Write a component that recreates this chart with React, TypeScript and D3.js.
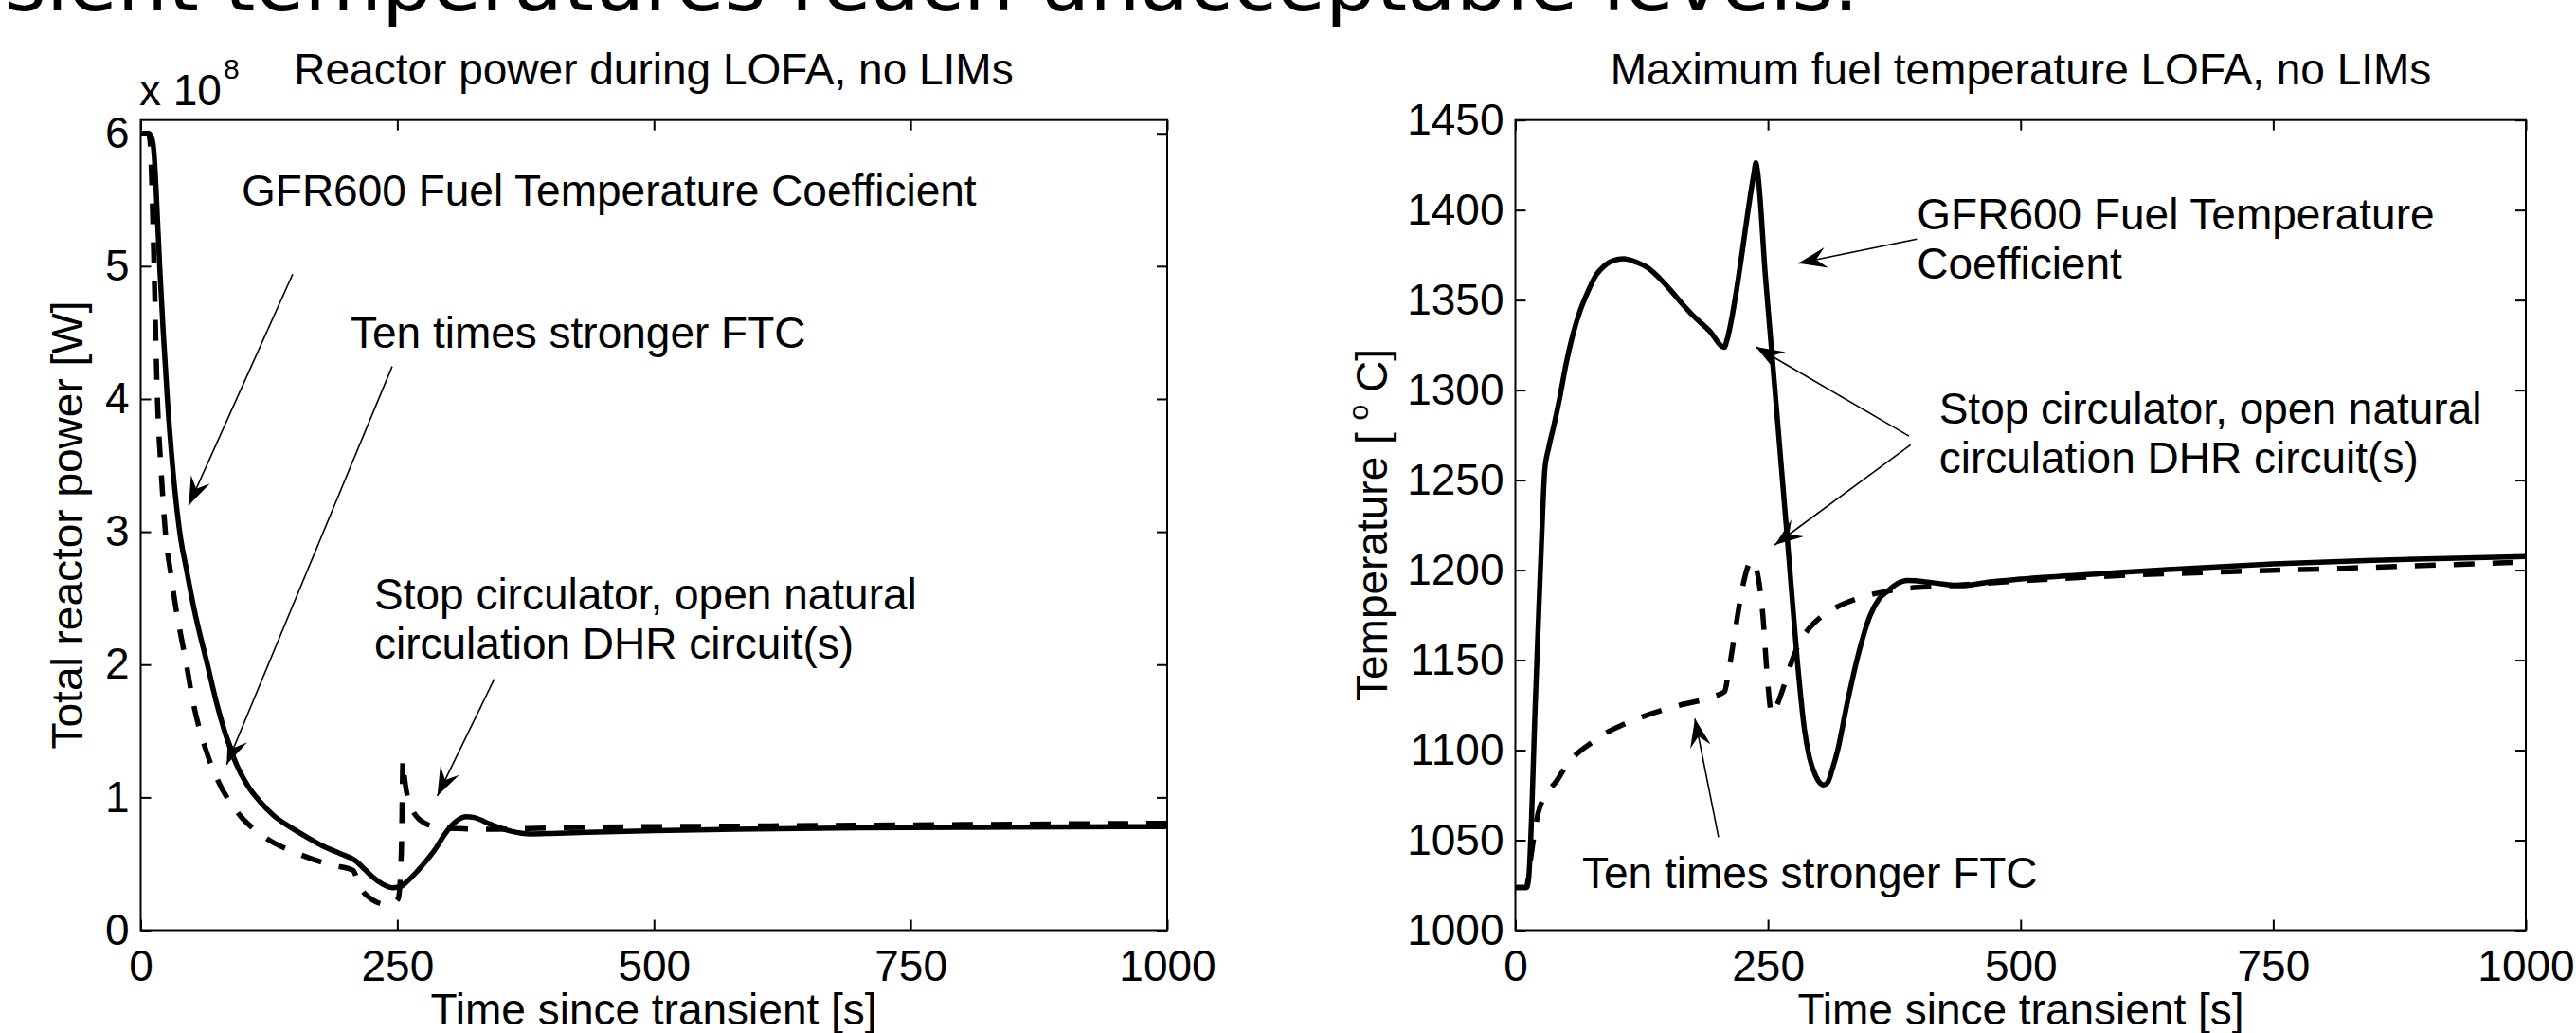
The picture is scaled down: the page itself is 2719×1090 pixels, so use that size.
import React, { useRef, useEffect } from "react";
import * as d3 from "d3";

// ---- data ----
// reactor power [x1e8 W] vs time [s]
const powerGfr: [number, number][] = [
  [0, 6.0], [8, 6.0], [11, 5.96], [13, 5.85], [15.5, 5.5], [18.5, 5.0], [22, 4.5], [26, 4.0],
  [31, 3.5], [38, 3.0], [45, 2.7], [52, 2.42], [65, 2.0], [75, 1.68], [85, 1.42], [95, 1.22],
  [105, 1.08], [115, 0.98], [130, 0.86], [146, 0.775], [162, 0.7], [177, 0.635], [195, 0.575],
  [209, 0.525], [218, 0.46], [226, 0.4], [236, 0.345], [245, 0.32], [252, 0.325], [260, 0.37],
  [269, 0.44], [278, 0.52], [287, 0.61], [296, 0.72], [303, 0.79], [310, 0.835], [317, 0.855],
  [325, 0.848], [340, 0.8], [361, 0.745], [380, 0.725], [400, 0.728], [435, 0.737], [500, 0.75],
  [600, 0.762], [700, 0.77], [850, 0.776], [1000, 0.78],
];
const powerStrong: [number, number][] = [
  [0, 6.0], [7, 6.0], [9, 5.95], [10.5, 5.7], [13, 5.0], [16.3, 4.0], [20, 3.45], [24, 3.0],
  [29, 2.7], [34, 2.44], [44.6, 2.0], [51, 1.72], [63, 1.37], [75, 1.13], [94, 0.89], [121, 0.7],
  [152, 0.58], [186, 0.49], [207, 0.45], [211, 0.38], [215, 0.31], [222, 0.25], [230, 0.21],
  [238, 0.195], [246, 0.205], [251, 0.24], [254, 0.6], [255.5, 1.28], [257, 1.15], [260, 1.0],
  [265, 0.9], [272, 0.83], [287, 0.78], [310, 0.765], [340, 0.76], [400, 0.77], [600, 0.785],
  [800, 0.795], [1000, 0.805],
];
// max fuel temperature [C] vs time [s]
const tempGfr: [number, number][] = [
  [0, 1023.7], [11, 1023.7], [13, 1028], [20, 1130], [27, 1232], [29, 1255], [33, 1268],
  [38, 1280], [44, 1296], [50, 1314], [57, 1331], [64, 1344], [72, 1355], [80, 1364], [88, 1369],
  [97, 1372], [107, 1373], [120, 1371], [132, 1367.6], [143, 1362], [154, 1355.3], [165, 1348],
  [176, 1341.3], [192, 1333], [207, 1323.7], [209, 1327], [236, 1420], [238, 1426.3], [240, 1420],
  [247.5, 1363], [255, 1313], [263, 1259], [271, 1205], [279, 1150], [286, 1112], [291, 1096],
  [297, 1086], [302, 1081.5], [305, 1080.7], [309, 1082], [314, 1090], [319, 1100], [328, 1125],
  [338, 1150], [351, 1174.6], [360, 1184], [369, 1188.6], [378, 1192.5], [388, 1194.2],
  [413, 1193], [441, 1191.3], [470, 1193.5], [500, 1195], [588, 1198.3], [650, 1200.5],
  [750, 1203.5], [850, 1205.5], [1000, 1207.6],
];
const tempStrong: [number, number][] = [
  [0, 1023.7], [11, 1023.7], [14, 1035], [17, 1047], [22.5, 1065], [30, 1075], [41, 1083],
  [50, 1091], [60, 1097.5], [75, 1104], [91, 1110], [108, 1114.5], [125, 1118.4], [160, 1124.6],
  [197, 1130], [207, 1132.5], [210, 1140], [213, 1150], [218, 1168], [222.5, 1183.4], [229, 1200],
  [233.5, 1205.3], [237, 1203], [240, 1197], [245, 1174.6], [249, 1143], [253.8, 1120.2],
  [258, 1124], [266, 1136], [274, 1150], [282, 1160.5], [292, 1168.5], [303.7, 1174.6],
  [320, 1180], [344, 1185.1], [382, 1189.5], [429, 1191.3], [500, 1194], [600, 1197],
  [700, 1199], [817, 1201], [1000, 1204.5],
];

const timeTicks = [0, 250, 500, 750, 1000];
const powerTicks = [0, 1, 2, 3, 4, 5, 6];
const tempTicks = [1000, 1050, 1100, 1150, 1200, 1250, 1300, 1350, 1400, 1450];

// annotations, in data units (t, value)
const powerNotes = [
  { lines: ["GFR600 Fuel Temperature Coefficient"], at: [98.3, 5.458] },
  { lines: ["Ten times stronger FTC"], at: [204.4, 4.387] },
  { lines: ["Stop circulator, open natural", "circulation DHR circuit(s)"], at: [227.5, 2.418] },
];
const powerArrows = [
  { from: [148.1, 4.94], to: [46.9, 3.2] },
  { from: [245, 4.245], to: [83.8, 1.247] },
  { from: [344.4, 1.89], to: [289, 1.01] },
];
const tempNotes = [
  { lines: ["GFR600 Fuel Temperature", "Coefficient"], at: [397.4, 1389.3] },
  { lines: ["Stop circulator, open natural", "circulation DHR circuit(s)"], at: [419.3, 1281.5] },
  { lines: ["Ten times stronger FTC"], at: [66.1, 1023.6] },
];
const tempArrows = [
  { from: [397.4, 1383.9], to: [280.2, 1370.5] },
  { from: [389.6, 1274.5], to: [238, 1324] },
  { from: [391.2, 1269.6], to: [256.7, 1214] },
  { from: [201.1, 1051.7], to: [177.7, 1117.5] },
];

const FONT = "'Liberation Sans', Arial, Helvetica, sans-serif";
const FS = 46;

function drawPanel(svg, cfg) {
  const { x, y, yTicks, solid, dashed, notes, arrows } = cfg;
  const g = svg.append("g");
  const [x0, x1] = x.range();
  const [yb, yt] = y.range();

  const line = d3.line().x((d) => x(d[0])).y((d) => y(d[1])).curve(d3.curveMonotoneX);
  const fmt = d3.format("d");

  // axes: ticks inward on all four sides
  const axisStyle = (sel) => {
    sel.attr("font-size", FS).attr("font-family", FONT);
    sel.select(".domain").remove();
    sel.selectAll(".tick line").attr("stroke", "#000").attr("stroke-width", 2);
    sel.selectAll(".tick text").attr("fill", "#000");
  };
  g.append("g").attr("transform", `translate(0,${yb})`)
    .call(d3.axisBottom(x).tickValues(timeTicks).tickFormat(fmt).tickSize(-11).tickPadding(21)).call(axisStyle);
  g.append("g").attr("transform", `translate(0,${yt})`)
    .call(d3.axisTop(x).tickValues(timeTicks).tickSize(-11).tickFormat(() => "")).call(axisStyle);
  g.append("g").attr("transform", `translate(${x0},0)`)
    .call(d3.axisLeft(y).tickValues(yTicks).tickFormat(fmt).tickSize(-11).tickPadding(12)).call(axisStyle);
  g.append("g").attr("transform", `translate(${x1},0)`)
    .call(d3.axisRight(y).tickValues(yTicks).tickSize(-11).tickFormat(() => "")).call(axisStyle);

  g.append("rect")
    .attr("x", x0).attr("y", yt).attr("width", x1 - x0).attr("height", yb - yt)
    .attr("fill", "none").attr("stroke", "#000").attr("stroke-width", 2);

  // curves
  g.append("path").datum(solid).attr("d", line)
    .attr("fill", "none").attr("stroke", "#000").attr("stroke-width", 5.5)
    .attr("stroke-linejoin", "round");
  g.append("path").datum(dashed).attr("d", line)
    .attr("fill", "none").attr("stroke", "#000").attr("stroke-width", 5.5)
    .attr("stroke-dasharray", "22,19");

  // annotation text
  notes.forEach((n) => {
    const t = g.append("text")
      .attr("font-family", FONT).attr("font-size", FS)
      .attr("x", x(n.at[0])).attr("y", y(n.at[1]));
    n.lines.forEach((s, i) => {
      t.append("tspan").attr("x", x(n.at[0])).attr("dy", i === 0 ? 0 : 52).text(s);
    });
  });

  // arrows
  arrows.forEach((a) => {
    const ax = x(a.from[0]), ay = y(a.from[1]);
    const bx = x(a.to[0]), by = y(a.to[1]);
    g.append("line")
      .attr("x1", ax).attr("y1", ay).attr("x2", bx).attr("y2", by)
      .attr("stroke", "#000").attr("stroke-width", 1.6);
    const ang = Math.atan2(by - ay, bx - ax);
    const c = Math.cos(ang), s = Math.sin(ang);
    const pts = [[0, 0], [-30, 11], [-19, 0], [-30, -11]].map(([u, v]) => [bx + u * c - v * s, by + u * s + v * c]);
    g.append("path").attr("d", "M" + pts.map((p) => p.join(",")).join("L") + "Z").attr("fill", "#000");
  });
  return g;
}

export default function App() {
  const svgRef = useRef(null);

  useEffect(() => {
    const svg = d3.select(svgRef.current);
    svg.selectAll("*").remove();

    svg.append("rect").attr("width", 2719).attr("height", 1090).attr("fill", "#fff");

    // slide heading, cut off at the top edge
    svg.append("text")
      .attr("x", 1962).attr("y", 11).attr("text-anchor", "end")
      .attr("font-family", "'DejaVu Sans', Verdana, sans-serif").attr("font-size", 84)
      .text("transient temperatures reach unacceptable levels.");

    // ---- left: reactor power ----
    const xL = d3.scaleLinear().domain([0, 1000]).range([148.5, 1232]);
    const yL = d3.scaleLinear().domain([0, 6.1]).range([981.5, 126.7]);
    drawPanel(svg, { x: xL, y: yL, yTicks: powerTicks, solid: powerGfr, dashed: powerStrong, notes: powerNotes, arrows: powerArrows });

    svg.append("text").attr("x", 690).attr("y", 89).attr("text-anchor", "middle")
      .attr("font-family", FONT).attr("font-size", FS).text("Reactor power during LOFA, no LIMs");
    const exp = svg.append("text").attr("x", 147).attr("y", 111)
      .attr("font-family", FONT).attr("font-size", FS);
    exp.append("tspan").text("x 10");
    exp.append("tspan").attr("x", 236).attr("y", 83).attr("font-size", 30).text("8");
    svg.append("text").attr("transform", "translate(87,554) rotate(-90)").attr("text-anchor", "middle")
      .attr("font-family", FONT).attr("font-size", FS).text("Total reactor power [W]");
    svg.append("text").attr("x", 690).attr("y", 1081).attr("text-anchor", "middle")
      .attr("font-family", FONT).attr("font-size", FS).text("Time since transient [s]");

    // ---- right: fuel temperature ----
    const xR = d3.scaleLinear().domain([0, 1000]).range([1599.5, 2666]);
    const yR = d3.scaleLinear().domain([1000, 1450]).range([981.5, 126.7]);
    drawPanel(svg, { x: xR, y: yR, yTicks: tempTicks, solid: tempGfr, dashed: tempStrong, notes: tempNotes, arrows: tempArrows });

    svg.append("text").attr("x", 2133).attr("y", 89).attr("text-anchor", "middle")
      .attr("font-family", FONT).attr("font-size", FS).text("Maximum fuel temperature LOFA, no LIMs");
    const yl = svg.append("text").attr("transform", "translate(1464,554) rotate(-90)").attr("text-anchor", "middle")
      .attr("font-family", FONT).attr("font-size", FS);
    yl.append("tspan").text("Temperature [ ");
    yl.append("tspan").attr("font-size", 30).attr("dy", -20).text("o");
    yl.append("tspan").attr("dy", 20).text(" C]");
    svg.append("text").attr("x", 2133).attr("y", 1081).attr("text-anchor", "middle")
      .attr("font-family", FONT).attr("font-size", FS).text("Time since transient [s]");
  }, []);

  return (
    <svg ref={svgRef} width={2719} height={1090}
      style={{ position: "absolute", left: 0, top: 0, display: "block" }} />
  );
}
